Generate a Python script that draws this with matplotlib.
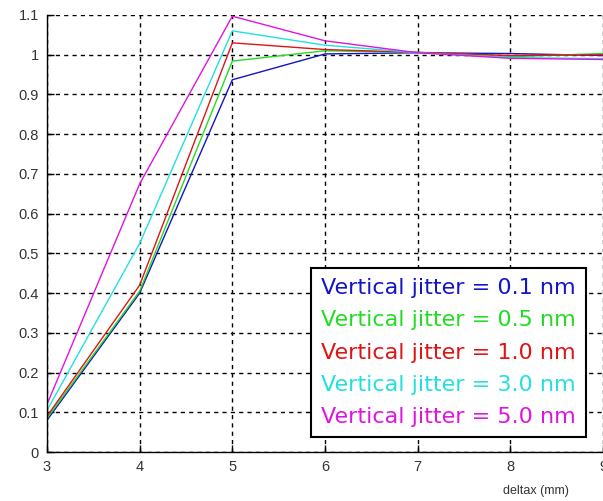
import matplotlib
matplotlib.use("Agg")
import matplotlib.pyplot as plt
from matplotlib.ticker import FixedLocator, FuncFormatter

deltax = [3, 4, 5, 6, 7, 8, 9]
labels = ["Vertical jitter = 0.1 nm", "Vertical jitter = 0.5 nm", "Vertical jitter = 1.0 nm",
          "Vertical jitter = 3.0 nm", "Vertical jitter = 5.0 nm"]
jit_01 = [0.080, 0.400, 0.937, 1.002, 1.005, 1.003, 0.998]
jit_05 = [0.085, 0.405, 0.984, 1.010, 1.006, 0.995, 1.003]
jit_10 = [0.090, 0.420, 1.030, 1.013, 1.006, 0.998, 1.000]
jit_30 = [0.105, 0.525, 1.060, 1.024, 1.005, 0.993, 0.990]
jit_50 = [0.120, 0.675, 1.097, 1.035, 1.005, 0.991, 0.988]
series = [jit_01, jit_05, jit_10, jit_30, jit_50]
colors = ["#1414c8", "#22dd22", "#e01414", "#22e0e0", "#e014e0"]
yticks = [0, 0.1, 0.2, 0.3, 0.4, 0.5, 0.6, 0.7, 0.8, 0.9, 1.0, 1.1]
xticks = [3, 4, 5, 6, 7, 8, 9]
xlabel = "deltax (mm)"

W, H = 603, 501
fig = plt.figure(figsize=(W / 100, H / 100), dpi=100)
ax = fig.add_axes([47 / W, (H - 452) / H, (603 - 47) / W, (452 - 15) / H])

for vals, c, lab in zip(series, colors, labels):
    ax.plot(deltax, vals, color=c, lw=1.0, label=lab)

ax.set_xlim(3, 9)
ax.set_ylim(0, 1.1)
ax.xaxis.set_major_locator(FixedLocator(xticks))
ax.yaxis.set_major_locator(FixedLocator(yticks))
ax.yaxis.set_major_formatter(FuncFormatter(lambda v, p: ("%g" % round(v, 2))))
ax.grid(True, color="black", linestyle=(0, (3, 3)), linewidth=1.0)
for s in ["top", "right"]:
    ax.spines[s].set_visible(False)
for s in ["left", "bottom"]:
    ax.spines[s].set_linewidth(1.0)
    ax.spines[s].set_color("black")
ax.tick_params(direction="in", length=5, width=1, labelsize=10.5, labelcolor="#333333",
               pad=6, colors="black")
for t in ax.get_xticklabels() + ax.get_yticklabels():
    t.set_color("#333333")
    t.set_family("Liberation Sans")

leg = ax.legend(loc="lower right", bbox_to_anchor=((586 - 47) / (603 - 47), (452 - 437) / (452 - 15)),
                borderaxespad=0, handlelength=0, handletextpad=0, labelcolor="linecolor",
                fancybox=False, framealpha=1, edgecolor="black", borderpad=0.45,
                labelspacing=0.55, prop={"family": "DejaVu Sans", "size": 16})
for h in leg.legend_handles:
    h.set_visible(False)
leg.get_frame().set_linewidth(1.5)

fig.text(536 / W, 1 - 491 / H, xlabel, ha="center", va="center", fontsize=9,
         color="#333333", family="Liberation Sans")

fig.savefig("out.png", dpi=100)
